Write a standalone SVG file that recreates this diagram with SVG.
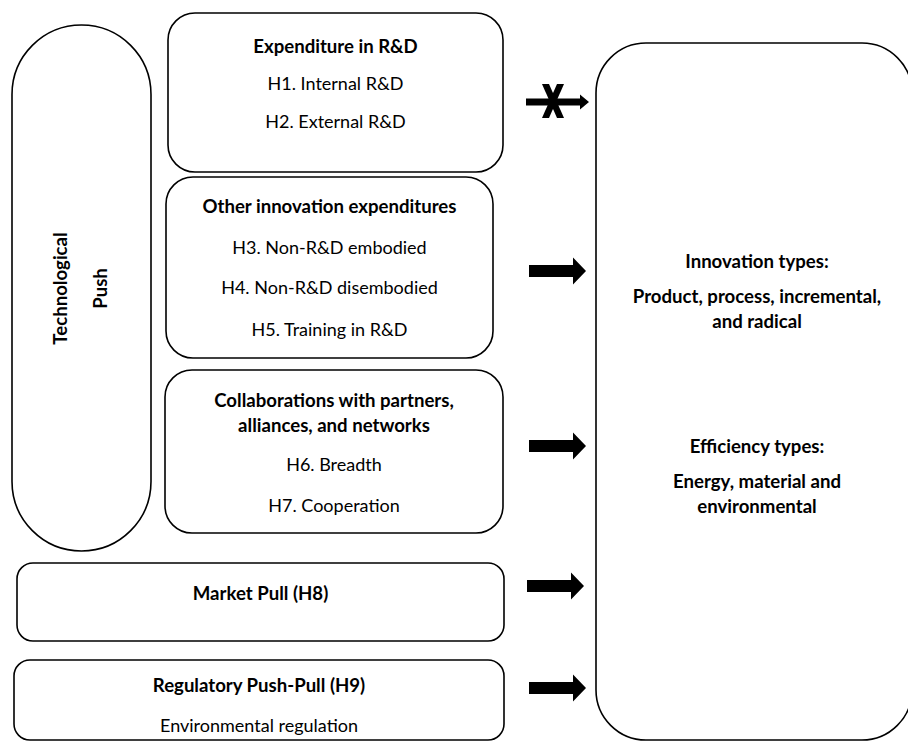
<svg xmlns="http://www.w3.org/2000/svg" width="908" height="756" viewBox="0 0 908 756">
<style>
.box{fill:#fff;stroke:#000;stroke-width:1.6}
text{font-family:Lato,"Open Sans",sans-serif;font-size:18px;fill:#000;text-anchor:middle}
.b{font-weight:bold;font-size:18.6px}
.arr{fill:#000}
</style>
<defs>
<path id="bigArrow" d="M0,-6 H44 V-13.5 L57,0 L44,13.5 V6 H0 Z"/>
</defs>
<rect width="908" height="756" fill="#fff"/>
<g id="tech-push">
<rect class="box" x="12" y="25" width="139" height="526" rx="69.5"/>
<text class="b" transform="translate(67,288.5) rotate(-90)">Technological</text>
<text class="b" transform="translate(107,288.5) rotate(-90)">Push</text>
</g>
<g id="rd-expenditure">
<rect class="box" x="168" y="13" width="335" height="159" rx="27"/>
<text class="b" x="335.5" y="53">Expenditure in R&amp;D</text>
<text x="335.5" y="90">H1. Internal R&amp;D</text>
<text x="335.5" y="128">H2. External R&amp;D</text>
</g>
<g id="other-expenditures">
<rect class="box" x="166" y="177" width="327" height="181" rx="27"/>
<text class="b" x="329.5" y="213">Other innovation expenditures</text>
<text x="329.5" y="254">H3. Non-R&amp;D embodied</text>
<text x="329.5" y="294">H4. Non-R&amp;D disembodied</text>
<text x="329.5" y="336">H5. Training in R&amp;D</text>
</g>
<g id="collaborations">
<rect class="box" x="165" y="370" width="338" height="163" rx="27"/>
<text class="b" x="334" y="407">Collaborations with partners,</text>
<text class="b" x="334" y="432">alliances, and networks</text>
<text x="334" y="471">H6. Breadth</text>
<text x="334" y="512">H7. Cooperation</text>
</g>
<g id="market-pull">
<rect class="box" x="17" y="563" width="487" height="78" rx="16"/>
<text class="b" x="260.5" y="600">Market Pull (H8)</text>
</g>
<g id="regulatory">
<rect class="box" x="14" y="660" width="490" height="80" rx="16"/>
<text class="b" x="259" y="692">Regulatory Push-Pull (H9)</text>
<text x="259" y="732">Environmental regulation</text>
</g>
<g id="outcomes">
<rect class="box" x="596" y="43" width="316" height="697" rx="50"/>
<text class="b" x="757" y="268">Innovation types:</text>
<text class="b" x="757" y="303">Product, process, incremental,</text>
<text class="b" x="757" y="328">and radical</text>
<text class="b" x="757" y="453">Efficiency types:</text>
<text class="b" x="757" y="488">Energy, material and</text>
<text class="b" x="757" y="513">environmental</text>
</g>
<g id="connectors">
<g id="arrow-rd">
<path class="arr" d="M526,98.5 H580 V94.5 L589,102 L580,109.5 V105.5 H526 Z"/>
<path class="arr" d="M542,84 L549,84 L564,118 L557,118 Z"/>
<path class="arr" d="M557,84 L564,84 L549,118 L542,118 Z"/>
</g>
<use class="arr" href="#bigArrow" x="529" y="271"/>
<use class="arr" href="#bigArrow" x="529" y="446"/>
<use class="arr" href="#bigArrow" x="527" y="586"/>
<use class="arr" href="#bigArrow" x="529" y="688"/>
</g>
</svg>
